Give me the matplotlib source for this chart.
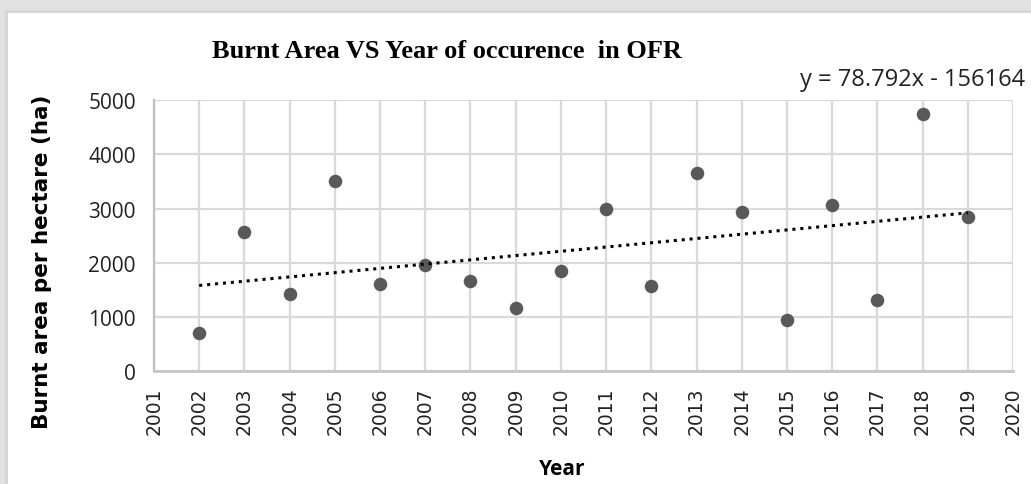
import matplotlib.pyplot as plt
import numpy as np
from matplotlib.patches import Rectangle

# values
years = [2002, 2003, 2004, 2005, 2006, 2007, 2008, 2009, 2010,
         2011, 2012, 2013, 2014, 2015, 2016, 2017, 2018, 2019]
burnt_area = [700, 2570, 1420, 3500, 1600, 1960, 1670, 1170, 1840,
              3000, 1580, 3650, 2930, 950, 3070, 1320, 4740, 2850]
year_ticks = list(range(2001, 2021))
area_ticks = [0, 1000, 2000, 3000, 4000, 5000]
equation = 'y = 78.792x - 156164'

W, H = 1031, 485
fig = plt.figure(figsize=(W / 100, H / 100), dpi=100)
fig.patch.set_facecolor('#e1e1e1')

# white chart area with a thin border like the Excel frame
fig.patches.append(Rectangle((5 / W, 0), 1, 1 - 11 / H, transform=fig.transFigure,
                             facecolor='#d6d6d6', edgecolor='none', zorder=0))
fig.patches.append(Rectangle((8 / W, 0), 1, 1 - 14 / H, transform=fig.transFigure,
                             facecolor='white', edgecolor='none', zorder=0))

ax = fig.add_axes([154 / W, 1 - 372.3 / H, (1013 - 154) / W, (372.3 - 101) / H])
ax.set_zorder(2)
ax.set_facecolor('none')

ax.scatter(years, burnt_area, s=95, color='#595959', zorder=3, linewidths=0)

# linear trendline
x = np.array(years)
k, b = np.polyfit(x, np.array(burnt_area), 1)
xt = np.array([x.min(), x.max()])
ax.plot(xt, k * xt + b, color='black', linestyle=(0, (1, 1.6)), linewidth=2.2, zorder=4)

ax.set_xlim(2001, 2020)
ax.set_ylim(0, 5000)
ax.set_xticks(year_ticks)
ax.set_yticks(area_ticks)
ax.set_xticklabels([str(t) for t in year_ticks], rotation=90,
                   fontsize=13.5, family='DejaVu Sans', color='#222222')
ax.set_yticklabels([str(t) for t in area_ticks], fontsize=15,
                   family='Open Sans', color='#222222')
ax.tick_params(axis='x', length=0, pad=11)
ax.tick_params(axis='y', length=0, pad=13)

ax.grid(True, color='#d9d9d9', linewidth=1.6)
ax.set_axisbelow(True)
for side in ['top', 'right']:
    ax.spines[side].set_visible(False)
ax.spines['left'].set_color('#bfbfbf')
ax.spines['bottom'].set_color('#c8c8c8')
ax.spines['left'].set_linewidth(1.6)
ax.spines['bottom'].set_linewidth(2)

fig.text(447 / W, 1 - 52 / H, 'Burnt Area VS Year of occurence  in OFR',
         ha='center', va='center', fontsize=19, fontweight='bold',
         family='Liberation Serif')
fig.text(800 / W, 1 - 80 / H, equation, ha='left', va='center',
         fontsize=17, family='Open Sans', color='#222222')
fig.text(42 / W, 1 - 262 / H, 'Burnt area per hectare (ha)', rotation=90,
         ha='center', va='center', fontsize=15.5, fontweight='bold',
         family='DejaVu Sans')
fig.text(562 / W, 1 - 470 / H, 'Year', ha='center', va='center',
         fontsize=15, fontweight='bold', family='Open Sans')

fig.savefig('out.png', dpi=100)
